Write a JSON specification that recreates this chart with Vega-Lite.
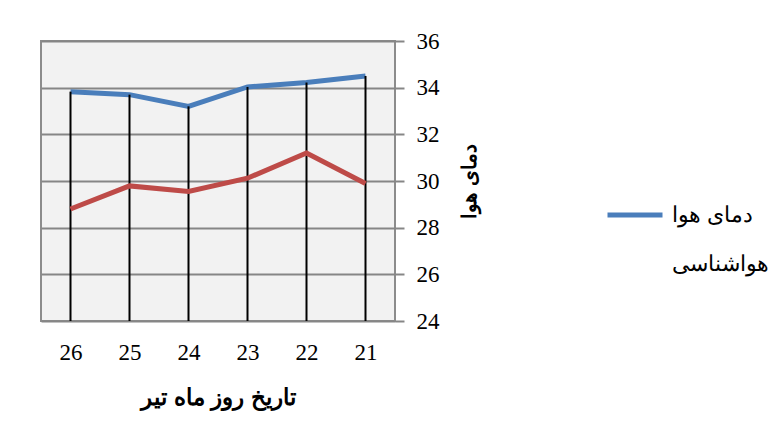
{
  "$schema": "https://vega.github.io/schema/vega-lite/v6.json",
  "width": 354,
  "height": 280,
  "autosize": {"type": "none"},
  "padding": {"left": 41, "top": 41, "right": 384, "bottom": 126},
  "background": "white",
  "config": {
    "view": {"fill": "#f2f2f2", "stroke": "#8c8c8c", "strokeWidth": 2},
    "font": "Liberation Serif"
  },
  "data": {
    "values": [
      {"day": 26, "series": "دمای هوا", "value": 33.83},
      {"day": 25, "series": "دمای هوا", "value": 33.7},
      {"day": 24, "series": "دمای هوا", "value": 33.2},
      {"day": 23, "series": "دمای هوا", "value": 34.03},
      {"day": 22, "series": "دمای هوا", "value": 34.22},
      {"day": 21, "series": "دمای هوا", "value": 34.5},
      {"day": 26, "series": "هواشناسی", "value": 28.8},
      {"day": 25, "series": "هواشناسی", "value": 29.79},
      {"day": 24, "series": "هواشناسی", "value": 29.55},
      {"day": 23, "series": "هواشناسی", "value": 30.12},
      {"day": 22, "series": "هواشناسی", "value": 31.2},
      {"day": 21, "series": "هواشناسی", "value": 29.89}
    ]
  },
  "encoding": {
    "x": {
      "field": "day",
      "type": "ordinal",
      "sort": [26, 25, 24, 23, 22, 21],
      "scale": {"type": "point", "padding": 0.5},
      "axis": {
        "title": "تاریخ روز ماه تیر",
        "titleFont": "Liberation Sans",
        "titleFontSize": 23,
        "titleFontWeight": "bold",
        "titleColor": "black",
        "titlePadding": 22,
        "labelAngle": 0,
        "labelFontSize": 23,
        "labelColor": "black",
        "labelPadding": 20,
        "ticks": false,
        "domain": false,
        "grid": false
      }
    },
    "y": {
      "field": "value",
      "type": "quantitative",
      "scale": {"domain": [24, 36], "nice": false, "zero": false},
      "axis": {
        "orient": "right",
        "values": [24, 26, 28, 30, 32, 34, 36],
        "title": "دمای هوا",
        "titleFont": "Liberation Sans",
        "titleFontSize": 20,
        "titleFontWeight": "bold",
        "titleColor": "black",
        "titleAngle": 270,
        "titlePadding": 40,
        "labelFontSize": 23,
        "labelColor": "black",
        "labelPadding": 12,
        "tickSize": 9,
        "tickColor": "#868686",
        "tickWidth": 2,
        "domain": false,
        "grid": true,
        "gridColor": "#868686",
        "gridWidth": 2
      }
    }
  },
  "layer": [
    {
      "transform": [{"filter": "datum.series === 'دمای هوا'"}],
      "mark": {"type": "line", "strokeWidth": 5},
      "encoding": {
        "color": {
          "field": "series",
          "type": "nominal",
          "scale": {"domain": ["دمای هوا", "هواشناسی"], "range": ["#4a7ebb", "#be4b48"]},
          "legend": {
            "title": null,
            "orient": "none",
            "legendX": 564,
            "legendY": 144,
            "symbolType": "stroke",
            "symbolSize": 3025,
            "symbolStrokeWidth": 5,
            "labelFont": "Liberation Sans",
            "labelFontSize": 22,
            "labelAlign": "left",
            "labelColor": "black",
            "labelOffset": 7,
            "rowPadding": 8,
            "encode": {
              "symbols": {"update": {"opacity": {"signal": "datum.value === 'هواشناسی' ? 0 : 1"}}}
            }
          }
        }
      }
    },
    {
      "transform": [{"filter": "datum.series === 'دمای هوا'"}],
      "mark": {"type": "rule", "color": "black", "strokeWidth": 2},
      "encoding": {"y2": {"datum": 24}}
    },
    {
      "transform": [{"filter": "datum.series === 'هواشناسی'"}],
      "mark": {"type": "line", "strokeWidth": 5},
      "encoding": {
        "color": {"field": "series", "type": "nominal"}
      }
    }
  ]
}
